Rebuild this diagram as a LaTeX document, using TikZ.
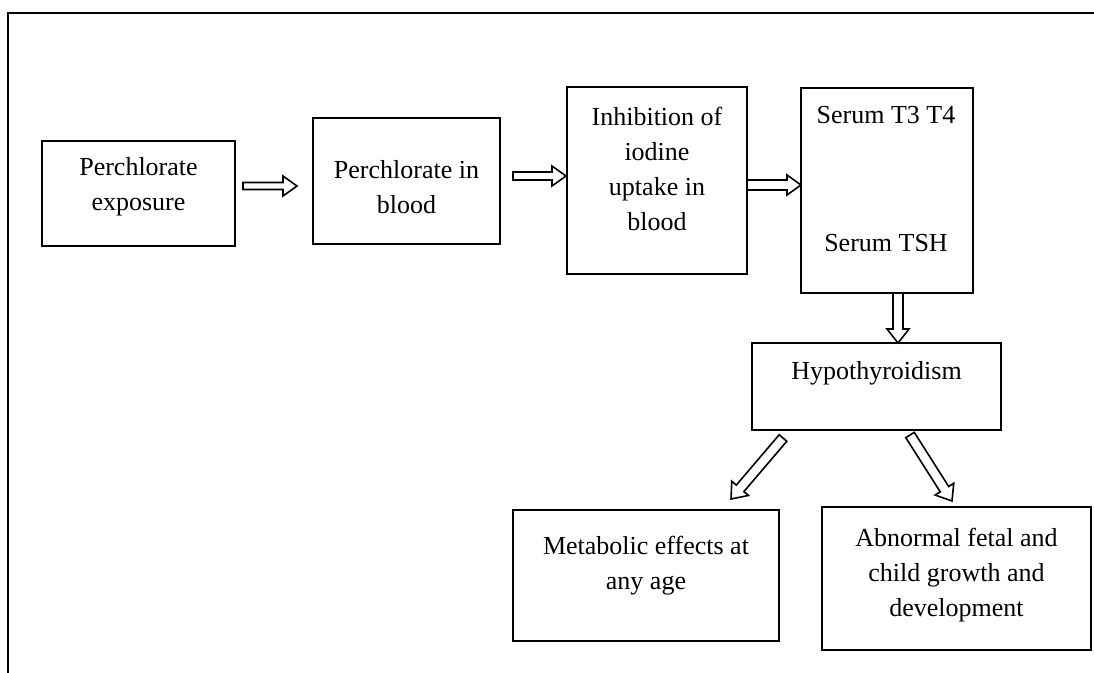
\documentclass[tikz,border=0pt]{standalone}
\usepackage{fontspec}
\setmainfont{Liberation Serif}
\usetikzlibrary{calc}
\tikzset{
  box/.style={draw, line width=1.7pt, inner sep=0pt, outer sep=0pt},
  txt/.style={align=center, inner sep=0pt, font=\fontsize{26}{35}\selectfont},
  blockarrow/.style={draw, line width=1.6pt, line join=miter, fill=white},
  frame/.style={line width=2.2pt},
}
\newcommand\barrow[4]{%
  \draw[blockarrow] let \p1=(#1), \p2=(#2), \n1={atan2(\y2-\y1,\x2-\x1)}, \n2={veclen(\x2-\x1,\y2-\y1)} in
  [shift={(\p1)}, rotate=\n1] (0pt,-#3pt) -- (\n2-14pt,-#3pt) -- (\n2-14pt,-#4pt) -- (\n2+0pt,0pt) -- (\n2-14pt,#4pt) -- (\n2-14pt,#3pt) -- (0pt,#3pt) -- cycle;}
\begin{document}
\begin{tikzpicture}[x=1pt,y=-1pt]
\useasboundingbox (0,0) rectangle (1094,672);
% outer frame
\coordinate (fbl) at (8,680);
\coordinate (ftl) at (8,13);
\coordinate (ftr) at (1100,13);
\draw[frame] (fbl) -- (ftl) -- (ftr);

% boxes
\node[box, minimum width=193pt, minimum height=105pt] (b1) at (138.5,193.5) {};
\node[box, minimum width=187pt, minimum height=126pt] (b2) at (406.5,181) {};
\node[box, minimum width=180pt, minimum height=187pt] (b3) at (657,180.5) {};
\node[box, minimum width=172pt, minimum height=205pt] (b4) at (887,190.5) {};
\node[box, minimum width=249pt, minimum height=87pt] (b5) at (876.5,386.5) {};
\node[box, minimum width=266pt, minimum height=131pt] (b6) at (646,575.5) {};
\node[box, minimum width=269pt, minimum height=143pt] (b7) at (956.5,578.5) {};

% texts
\node[txt, anchor=north] (t1) at (138.5,157) {Perchlorate\\exposure};
\node[txt, anchor=north] (t2) at (406.5,160) {Perchlorate in\\blood};
\node[txt, anchor=north] (t3) at (657,107) {Inhibition of\\iodine\\uptake in\\blood};
\node[txt, anchor=north] (t4a) at (886,106) {Serum T3 T4};
\node[txt, anchor=north] (t4b) at (886,234) {Serum TSH};
\node[txt, anchor=north] (t5) at (876.5,361) {Hypothyroidism};
\node[txt, anchor=north] (t6) at (646,536) {Metabolic effects at\\any age};
\node[txt, anchor=north] (t7) at (956.5,528) {Abnormal fetal and\\child growth and\\development};

% arrow end points
\coordinate (a1s) at (243,186);
\coordinate (a1e) at (297,186);
\coordinate (a2s) at (513,176);
\coordinate (a2e) at (566,176);
\coordinate (a3s) at (747,185);
\coordinate (a3e) at (801,185);
\coordinate (a4s) at (898,293);
\coordinate (a4e) at (898,343);
\coordinate (a5s) at (783,438);
\coordinate (a5e) at (731,499);
\coordinate (a6s) at (910,435);
\coordinate (a6e) at (952,501);

\barrow{a1s}{a1e}{3.5}{10}
\barrow{a2s}{a2e}{4}{10}
\barrow{a3s}{a3e}{5}{10}
\barrow{a4s}{a4e}{5}{11}
\barrow{a5s}{a5e}{5}{11}
\barrow{a6s}{a6e}{5}{11}
\end{tikzpicture}
\end{document}
